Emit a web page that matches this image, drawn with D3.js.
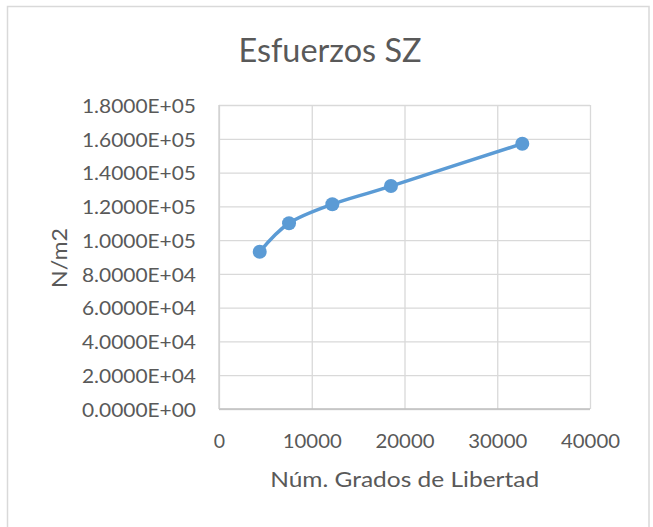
<!DOCTYPE html>
<html>
<head>
<meta charset="utf-8">
<script src="https://cdn.jsdelivr.net/npm/d3@7"></script>
<style>
  html, body { margin: 0; padding: 0; background: #fff; }
  svg { display: block; }
  text { font-family: "Lato", "Liberation Sans", sans-serif; fill: #595959; }
</style>
</head>
<body>
<svg id="chart" width="653" height="527"></svg>
<script>
// ---- data ----
const title = "Esfuerzos SZ";
const xTitle = "Núm. Grados de Libertad";
const yTitle = "N/m2";
const gradosLibertad = [4390, 7550, 12220, 18540, 32700];
const esfuerzosSZ = [93100, 110000, 121200, 132000, 157100];
const xTicks = [0, 10000, 20000, 30000, 40000];
const yTicks = [0, 20000, 40000, 60000, 80000, 100000, 120000, 140000, 160000, 180000];

// ---- layout ----
const W = 653, H = 527;
const plot = { left: 219, right: 590, top: 105, bottom: 409 };

const svg = d3.select("#chart");
svg.append("rect").attr("width", W).attr("height", H).attr("fill", "#fff");
svg.append("rect")
  .attr("x", 7.5).attr("y", 6.5).attr("width", 641.5).attr("height", 560)
  .attr("fill", "none").attr("stroke", "#d9d9d9").attr("stroke-width", 1.5);

const x = d3.scaleLinear().domain([0, 40000]).range([plot.left, plot.right]);
const y = d3.scaleLinear().domain([0, 180000]).range([plot.bottom, plot.top]);

function sci(v) {
  const [m, e] = v.toExponential(4).split("e");
  const sign = e[0];
  const digits = e.slice(1).padStart(2, "0");
  return m + "E" + sign + digits;
}

// gridlines (vertical)
const gx = svg.append("g").attr("transform", `translate(0,${plot.bottom})`)
  .call(d3.axisBottom(x).tickValues(xTicks).tickSize(-(plot.bottom - plot.top)).tickFormat(""));
gx.select(".domain").remove();
gx.selectAll("line").attr("stroke", "#d9d9d9").attr("stroke-width", 1.3);

// gridlines (horizontal)
const gy = svg.append("g").attr("transform", `translate(${plot.left},0)`)
  .call(d3.axisLeft(y).tickValues(yTicks).tickSize(-(plot.right - plot.left)).tickFormat(""));
gy.select(".domain").remove();
gy.selectAll("line").attr("stroke", "#d9d9d9").attr("stroke-width", 1.3);

// axis lines
svg.append("line").attr("x1", plot.left).attr("x2", plot.right)
  .attr("y1", plot.bottom).attr("y2", plot.bottom)
  .attr("stroke", "#bfbfbf").attr("stroke-width", 1.3);
svg.append("line").attr("x1", plot.left).attr("x2", plot.left)
  .attr("y1", plot.top).attr("y2", plot.bottom)
  .attr("stroke", "#d0d0d0").attr("stroke-width", 1.3);

// y tick labels
const ay = svg.append("g").attr("transform", `translate(${plot.left},0)`)
  .call(d3.axisLeft(y).tickValues(yTicks).tickSize(0).tickPadding(23).tickFormat(sci));
ay.select(".domain").remove();
ay.selectAll("text")
  .attr("dy", null).attr("dominant-baseline", "auto")
  .attr("transform", "translate(0,7.3)")
  .attr("font-size", 19).attr("fill", "#595959")
  .attr("font-family", "Lato, sans-serif")
  .attr("textLength", 114).attr("lengthAdjust", "spacingAndGlyphs");

// x tick labels
const ax = svg.append("g").attr("transform", `translate(0,${plot.bottom})`)
  .call(d3.axisBottom(x).tickValues(xTicks).tickSize(0).tickFormat(d => String(d)));
ax.select(".domain").remove();
ax.selectAll("text")
  .attr("dy", null).attr("y", 38.7)
  .attr("font-size", 19.5).attr("fill", "#595959")
  .attr("font-family", "Lato, sans-serif")
  .each(function(d) {
    if (d !== 0) d3.select(this).attr("textLength", 59).attr("lengthAdjust", "spacingAndGlyphs");
  });

// title
svg.append("text").attr("x", 330).attr("y", 62.3).attr("text-anchor", "middle")
  .attr("font-size", 33).attr("textLength", 183).attr("lengthAdjust", "spacingAndGlyphs")
  .text(title);

// x axis title
svg.append("text").attr("x", 404.7).attr("y", 487.3).attr("text-anchor", "middle")
  .attr("font-size", 21).attr("textLength", 269).attr("lengthAdjust", "spacingAndGlyphs")
  .text(xTitle);

// y axis title
svg.append("text").attr("transform", "translate(67,258) rotate(-90)")
  .attr("text-anchor", "middle")
  .attr("font-size", 21).attr("textLength", 60).attr("lengthAdjust", "spacingAndGlyphs")
  .text(yTitle);

// series line
const pts = gradosLibertad.map((g, i) => [g, esfuerzosSZ[i]]);
const line = d3.line().x(d => x(d[0])).y(d => y(d[1])).curve(d3.curveCardinal.tension(0));
svg.append("path").datum(pts).attr("d", line)
  .attr("fill", "none").attr("stroke", "#5b9bd5").attr("stroke-width", 3.5)
  .attr("stroke-linejoin", "round").attr("stroke-linecap", "round");

svg.selectAll("circle.pt").data(pts).enter().append("circle")
  .attr("class", "pt")
  .attr("cx", d => x(d[0])).attr("cy", d => y(d[1])).attr("r", 7)
  .attr("fill", "#5b9bd5");
</script>
</body>
</html>
